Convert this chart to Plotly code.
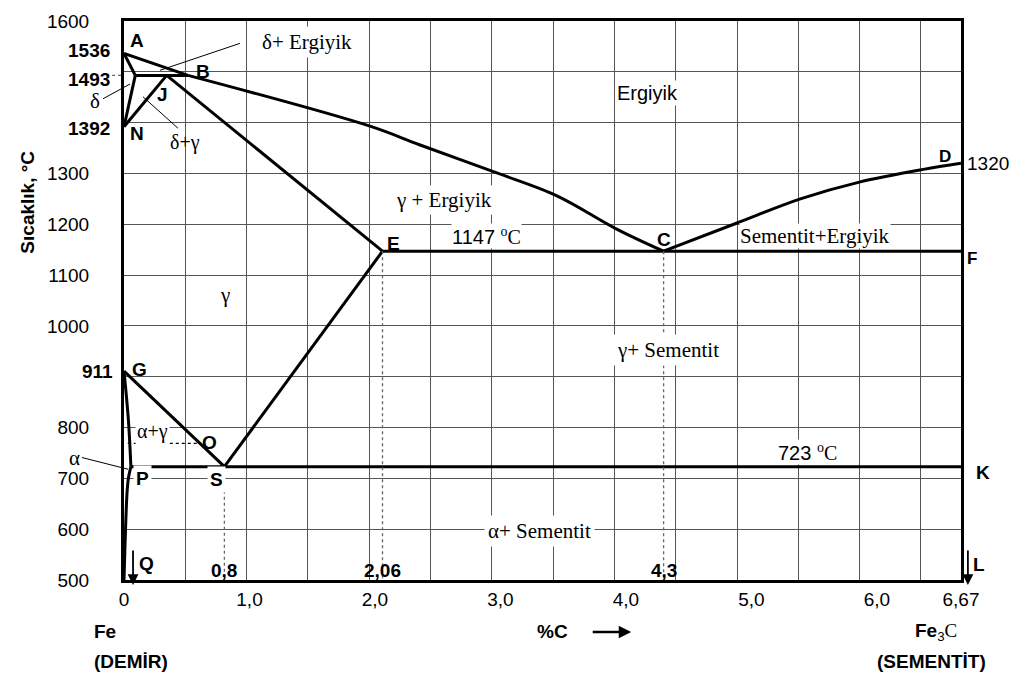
import plotly.graph_objects as go

SANS = "Liberation Sans"
SERIF = "Liberation Serif"
X_MAX = 6.67

# ---- boundary lines of the Fe–Fe3C diagram (wt% C, °C) ----
liq_ab_x = [0.0, 0.51]
liq_ab_y = [1536, 1493]
liq_bc_x = [0.51, 1.96, 2.36, 2.96, 3.45, 3.93, 4.3]
liq_bc_y = [1493, 1393, 1356, 1302, 1256, 1190, 1147]
liq_cd_x = [4.3, 4.88, 5.39, 5.86, 6.37, 6.67]
liq_cd_y = [1147, 1202, 1250, 1283, 1308, 1320]

ah_x, ah_y = [0.0, 0.09], [1536, 1493]
hn_x, hn_y = [0.09, 0.0], [1493, 1392]
hb_x, hb_y = [0.09, 0.51], [1493, 1493]
nj_x, nj_y = [0.0, 0.34], [1392, 1493]
je_x, je_y = [0.34, 2.06], [1493, 1147]
ecf_x, ecf_y = [2.06, 6.67], [1147, 1147]
gs_x, gs_y = [0.0, 0.8], [911, 723]
se_x, se_y = [0.8, 2.06], [723, 1147]
gp_x, gp_y = [0.0, 0.035, 0.055], [911, 815, 723]
pq_x = [0.055, 0.035, 0.025, 0.015, 0.007, 0.0]
pq_y = [723, 700, 675, 620, 560, 500]
psk_x, psk_y = [0.055, 6.67], [723, 723]

# ---- dotted guide lines ----
guide_0_8_x, guide_0_8_y = [0.8, 0.8], [723, 500]
guide_2_06_x, guide_2_06_y = [2.06, 2.06], [1147, 500]
guide_4_3_x, guide_4_3_y = [4.3, 4.3], [1147, 500]
guide_o_x, guide_o_y = [0.03, 0.604], [769, 769]

# ---- axis ticks ----
x_tickvals = [0, 1, 2, 3, 4, 5, 6, 6.67]
x_ticktext = ["0", "1,0", "2,0", "3,0", "4,0", "5,0", "6,0", "6,67"]
y_tickvals = list(range(500, 1601, 100))
y_ticktext = ["500", "600", "700", "800", "", "1000", "1100", "1200",
              "1300", "", "", "1600"]

fig = go.Figure()

solid = [
    (liq_ab_x, liq_ab_y, "linear"), (liq_bc_x, liq_bc_y, "spline"),
    (liq_cd_x, liq_cd_y, "spline"), (ah_x, ah_y, "linear"),
    (hn_x, hn_y, "linear"), (hb_x, hb_y, "linear"), (nj_x, nj_y, "linear"),
    (je_x, je_y, "linear"), (ecf_x, ecf_y, "linear"), (gs_x, gs_y, "linear"),
    (se_x, se_y, "linear"), (gp_x, gp_y, "spline"), (pq_x, pq_y, "spline"),
    (psk_x, psk_y, "linear"),
]
for xs, ys, shp in solid:
    fig.add_trace(go.Scatter(x=xs, y=ys, mode="lines",
                             line=dict(color="black", width=3, shape=shp,
                                       smoothing=1.0),
                             showlegend=False, hoverinfo="skip"))

dotted = [(guide_0_8_x, guide_0_8_y, "#666"), (guide_2_06_x, guide_2_06_y, "#666"),
          (guide_4_3_x, guide_4_3_y, "#666"), (guide_o_x, guide_o_y, "black")]
for xs, ys, col in dotted:
    fig.add_trace(go.Scatter(x=xs, y=ys, mode="lines",
                             line=dict(color=col, width=1.3, dash="dot"),
                             showlegend=False, hoverinfo="skip"))

# empty trace carrying the secondary x axis used for the vertical grid
fig.add_trace(go.Scatter(x=[], y=[], xaxis="x2", yaxis="y", showlegend=False,
                         hoverinfo="skip"))

ann = []


def px(x):
    """composition -> paper fraction, for items placed beside the plot area"""
    return x / X_MAX


def text(t, x, y, size=19, family=SANS, bold=False, bg=None, xanchor="center",
         yanchor="middle", yshift=0, xref="x", yref="y", pad=1):
    a = dict(text=f"<b>{t}</b>" if bold else t, x=x, y=y, xref=xref, yref=yref,
             showarrow=False, xanchor=xanchor, yanchor=yanchor, yshift=yshift,
             font=dict(family=family, size=size, color="black"), borderpad=pad)
    if bg:
        a["bgcolor"] = bg
    ann.append(a)


# point letters
text("A", 0.104, 1562, bold=True)
text("B", 0.63, 1500, bold=True)
text("J", 0.31, 1456, bold=True)
text("N", 0.104, 1378, bold=True)
text("E", 2.15, 1163, bold=True)
text("C", 4.3, 1171, bold=True)
text("D", 6.54, 1333, bold=True, size=17)
text("F", px(6.757), 1132, bold=True, size=17, xref="paper")
text("K", px(6.845), 712, bold=True, xref="paper")
text("G", 0.127, 915, bold=True)
text("O", 0.685, 770, bold=True)
text("P", 0.151, 699, bold=True, bg="white", pad=2)
text("S", 0.741, 697, bold=True, bg="white", pad=2)
text("Q", 0.183, 532, bold=True)
text("L", px(6.81), 530, bold=True, xref="paper")

# bold temperature values beside the axis
text("1536", px(-0.095), 1536, bold=True, xanchor="right", yshift=3, xref="paper")
text("1493", px(-0.095), 1493, bold=True, xanchor="right", yshift=-4, xref="paper")
text("1392", px(-0.095), 1392, bold=True, xanchor="right", yshift=-2, xref="paper")
text("911", px(-0.07), 911, bold=True, xanchor="right", xref="paper")
text("1320", px(6.70), 1320, xanchor="left", xref="paper")

# composition values at the bottom
text("0,8", 0.8, 519, bold=True)
text("2,06", 2.06, 519, bold=True)
text("4,3", 4.3, 519, bold=True)

# phase regions
text("δ+ Ergiyik", 1.458, 1558, size=21, family=SERIF, bg="white", pad=3)
text("Ergiyik", 4.175, 1459, size=20, bg="white", pad=1)
text("γ + Ergiyik", 2.55, 1248, size=21, family=SERIF, bg="white", pad=2)
text("1147 <span style='font-family:Liberation Serif'><sup>o</sup>C</span>",
     2.885, 1147, size=20, bg="white", pad=0, yanchor="bottom", yshift=2)
text("Sementit+Ergiyik", 5.506, 1147, size=21, family=SERIF, bg="white", pad=0,
     yanchor="bottom", yshift=2)
text("γ", 0.805, 1060, size=21, family=SERIF, bg="white", pad=3)
text("γ+ Sementit", 4.335, 952, size=21, family=SERIF, bg="white", pad=3)
text("723 <span style='font-family:Liberation Serif'><sup>o</sup>C</span>",
     5.45, 723, size=20, bg="white", pad=0, yanchor="bottom", yshift=2)
text("α+ Sementit", 3.31, 596, size=21, family=SERIF, bg="white", pad=3)
text("α+γ", 0.231, 792, size=20, family=SERIF, bg="white", pad=1)
text("δ", px(-0.231), 1442, size=21, family=SERIF, xref="paper")
text("δ+γ", 0.486, 1360, size=20, family=SERIF)
text("α", px(-0.398), 740, size=21, family=SERIF, xref="paper")

# axis titles and end-member names
text("%C", 0.512, -0.093, bold=True, xref="paper", yref="paper")
text("Fe", -0.038, -0.093, bold=True, xanchor="left", xref="paper", yref="paper")
text("(DEMİR)", -0.038, -0.146, bold=True, xanchor="left", xref="paper", yref="paper")
text("<b>Fe</b><sub>3</sub><span style='font-family:Liberation Serif'>C</span>",
     0.998, -0.093, xanchor="right", xref="paper", yref="paper")
text("(SEMENTİT)", 1.032, -0.146, bold=True, xanchor="right", xref="paper", yref="paper")
ann.append(dict(text="<b>Sıcaklık, °C</b>", x=-0.130, y=0.772, xref="paper",
                yref="paper", showarrow=False, textangle=-90,
                font=dict(family=SANS, size=19, color="black")))

# arrows
arrow = dict(text="", showarrow=True, arrowhead=2, arrowsize=1.2, arrowwidth=1.8,
             arrowcolor="black", standoff=0, axref="pixel", ayref="pixel")
ann.append(dict(arrow, x=0.072, y=500, xref="x", yref="y", ax=0, ay=-36, yshift=-5))
ann.append(dict(arrow, x=px(6.725), y=500, xref="paper", yref="y", ax=0, ay=-36,
                yshift=-5))
ann.append(dict(arrow, x=0.606, y=-0.093, xref="paper", yref="paper", ax=-40, ay=0,
                arrowwidth=2.5, arrowsize=1))

# leader lines from labels to their regions (paper x, data y)
leaders = [((0.924, 1556), (0.287, 1503)),
           ((-0.167, 1447), (0.048, 1476)),
           ((0.151, 1451), (0.430, 1389)),
           ((-0.335, 741), (0.032, 718))]
shapes = [dict(type="line", x0=px(a[0]), y0=a[1], x1=px(b[0]), y1=b[1],
               xref="paper", yref="y", line=dict(color="black", width=1))
          for a, b in leaders]
# dotted tie from the 1493 label to the axis
shapes.append(dict(type="line", x0=px(-0.095), x1=0, y0=1493, y1=1493,
                   xref="paper", yref="y",
                   line=dict(color="#666", width=1.3, dash="dot")))

fig.update_layout(
    width=1014, height=682,
    margin=dict(l=124, r=53, t=11, b=102),
    paper_bgcolor="white", plot_bgcolor="white",
    showlegend=False,
    annotations=ann,
    shapes=shapes,
    xaxis=dict(range=[0, X_MAX], tickvals=x_tickvals, ticktext=x_ticktext,
               showgrid=False, zeroline=False, showline=True, linewidth=3,
               linecolor="black", mirror=True, ticks="", ticklabelstandoff=0,
               tickfont=dict(family=SANS, size=19, color="black")),
    xaxis2=dict(range=[0, 6.827], overlaying="x", anchor="y", dtick=0.5, tick0=0,
                showgrid=True, gridcolor="#555", gridwidth=1.3, showticklabels=False,
                ticks="", zeroline=False, showline=False),
    yaxis=dict(range=[500, 1600], tickvals=y_tickvals, ticktext=y_ticktext,
               showgrid=True, gridcolor="#555", gridwidth=1.3, zeroline=False,
               showline=True, linewidth=3, linecolor="black", mirror=True,
               ticks="", ticklabelstandoff=28,
               tickfont=dict(family=SANS, size=19, color="black")),
)

fig.write_html("out.html")
